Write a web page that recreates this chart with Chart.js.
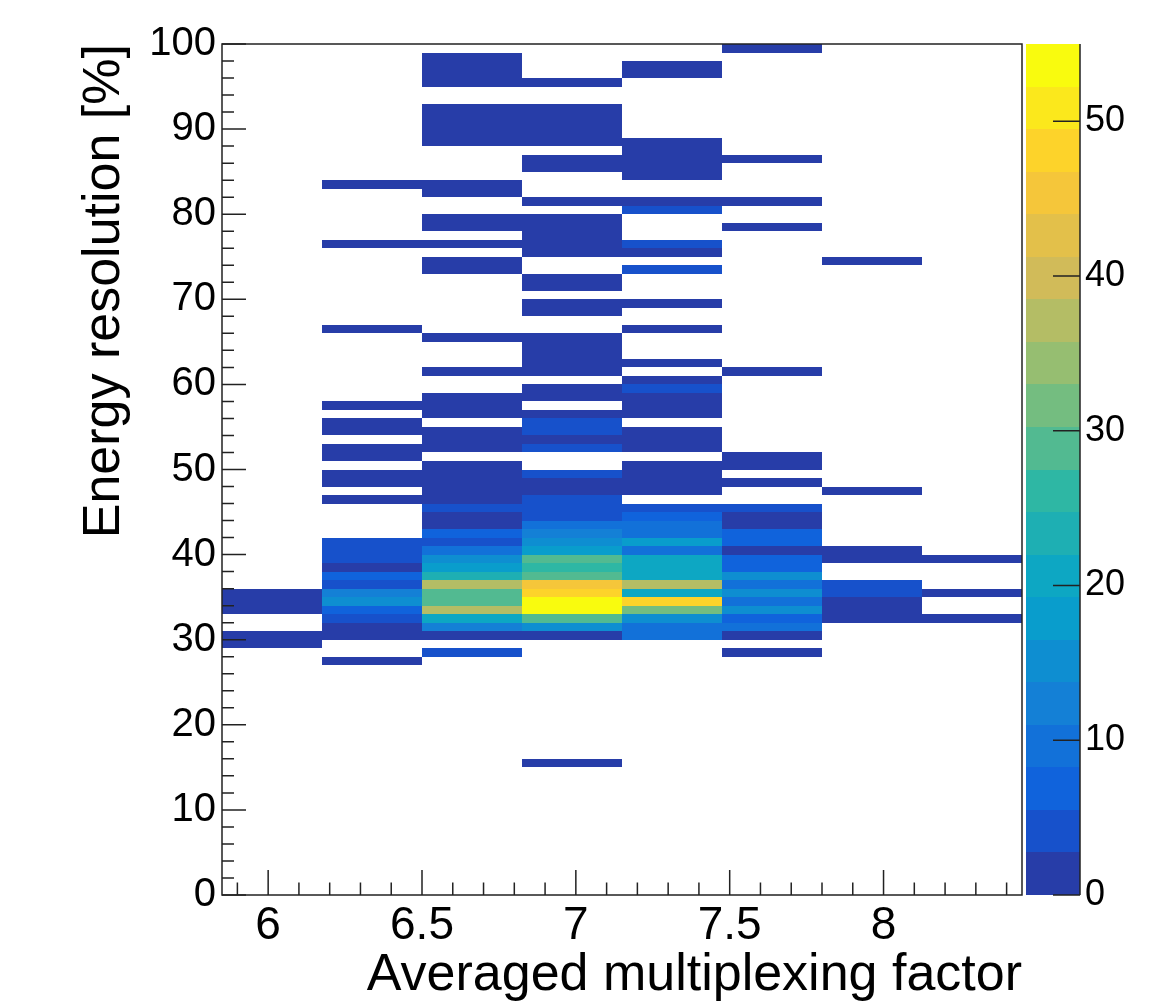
<!DOCTYPE html>
<html>
<head>
<meta charset="utf-8">
<title>Energy resolution vs averaged multiplexing factor</title>
<script src="https://cdn.jsdelivr.net/npm/chart.js@4/dist/chart.umd.min.js"></script>
<style>
  html, body { margin: 0; padding: 0; background: #fff; }
</style>
</head>
<body>
<canvas id="histo" width="1176" height="1007"></canvas>
<script>
// x bin edges of the 2D histogram (averaged multiplexing factor)
const xEdges = [5.85, 6.175, 6.5, 6.825, 7.15, 7.475, 7.8, 8.125, 8.45];

// entries per x bin as [energy resolution bin low edge (%), entries]
const bin1 = [[29, 1], [30, 2], [33, 1], [34, 2], [35, 1]];
const bin2 = [[27, 1], [30, 2], [31, 2], [32, 4], [33, 7], [34, 16], [35, 12], [36, 4], [37, 7], [38, 2],
  [39, 4], [40, 5], [41, 3], [46, 1], [48, 1], [49, 2], [51, 1], [52, 2], [54, 1], [55, 2],
  [57, 1], [66, 1], [76, 1], [83, 1]];
const bin3 = [[28, 4], [30, 2], [31, 12], [32, 21], [33, 37], [34, 29], [35, 29], [36, 38], [37, 23], [38, 19],
  [39, 15], [40, 10], [41, 4], [42, 7], [43, 2], [44, 1], [45, 4], [46, 1], [47, 2], [48, 1],
  [49, 2], [50, 1], [52, 1], [53, 2], [54, 1], [56, 2], [57, 1], [58, 1], [61, 1], [65, 1],
  [73, 1], [74, 2], [76, 1], [78, 1], [79, 2], [82, 1], [83, 2], [88, 1], [89, 2], [90, 1],
  [91, 1], [92, 2], [95, 1], [96, 2], [97, 1], [98, 1]];
const bin4 = [[15, 1], [30, 2], [31, 15], [32, 29], [33, 55], [34, 54], [35, 48], [36, 46], [37, 29], [38, 26],
  [39, 29], [40, 17], [41, 15], [42, 12], [43, 10], [44, 4], [45, 4], [46, 4], [47, 2], [48, 1],
  [49, 4], [52, 4], [53, 2], [54, 4], [55, 5], [56, 1], [58, 1], [59, 2], [61, 1], [62, 1],
  [63, 2], [64, 1], [65, 1], [68, 1], [69, 2], [71, 1], [72, 2], [75, 1], [76, 2], [77, 1],
  [78, 1], [79, 2], [81, 1], [85, 1], [86, 2], [88, 1], [89, 1], [90, 2], [91, 1], [92, 1], [95, 1]];
const bin5 = [[30, 10], [31, 9], [32, 15], [33, 32], [34, 47], [35, 21], [36, 37], [37, 21], [38, 21], [39, 20],
  [40, 10], [41, 18], [42, 9], [43, 9], [44, 6], [45, 4], [47, 1], [48, 2], [49, 1], [50, 2],
  [52, 1], [53, 2], [54, 1], [56, 1], [57, 2], [58, 1], [59, 4], [60, 1], [62, 1], [66, 1],
  [69, 1], [73, 4], [75, 1], [76, 4], [80, 4], [81, 1], [84, 1], [85, 2], [86, 1], [87, 2],
  [88, 1], [96, 1], [97, 2]];
const bin6 = [[28, 1], [30, 2], [31, 9], [32, 7], [33, 14], [34, 9], [35, 14], [36, 9], [37, 14], [38, 7],
  [39, 7], [40, 2], [41, 6], [42, 6], [43, 2], [44, 1], [45, 4], [48, 1], [50, 2], [51, 1],
  [61, 1], [78, 1], [81, 1], [86, 1], [99, 1]];
const bin7 = [[32, 2], [33, 1], [34, 2], [35, 4], [36, 4], [39, 1], [40, 2], [47, 1], [74, 1]];
const bin8 = [[32, 1], [35, 1], [39, 1]];
const xBins = [bin1, bin2, bin3, bin4, bin5, bin6, bin7, bin8];

// axis tick labels
const xTickLabels = [6, 6.5, 7, 7.5, 8];
const yTickLabels = [0, 10, 20, 30, 40, 50, 60, 70, 80, 90, 100];
const zTickLabels = [0, 10, 20, 30, 40, 50];
const zMax = 55;
const nContours = 20;

const FONT = "'Liberation Sans', Arial, Helvetica, sans-serif";

// kBird colour palette stops, sampled into contour colours
const birdStops = [0.0, 0.125, 0.25, 0.375, 0.5, 0.625, 0.75, 0.875, 1.0];
const birdR = [0.2082, 0.0592, 0.0780, 0.0232, 0.1802, 0.5301, 0.8186, 0.9956, 0.9764];
const birdG = [0.1664, 0.3599, 0.5041, 0.6419, 0.7178, 0.7492, 0.7328, 0.7862, 0.9832];
const birdB = [0.5293, 0.8684, 0.8385, 0.7914, 0.6425, 0.4662, 0.3499, 0.1968, 0.0539];

function birdColor(t) {
    let k = 0;
    while (k < birdStops.length - 2 && t > birdStops[k + 1]) k++;
    const f = (t - birdStops[k]) / (birdStops[k + 1] - birdStops[k]);
    const c = arr => Math.round(255 * (arr[k] + (arr[k + 1] - arr[k]) * f));
    return 'rgb(' + c(birdR) + ',' + c(birdG) + ',' + c(birdB) + ')';
}

const levelColors = [];
for (let i = 0; i < nContours; i++) {
    const idx = Math.floor((i + 0.99) * 255 / nContours);
    levelColors.push(birdColor(Math.min(idx, 254) / 254));
}

function colorFor(v) {
    let lvl = Math.floor(nContours * v / zMax);
    if (lvl >= nContours) lvl = nContours - 1;
    return levelColors[lvl];
}

// one point per filled cell
const cells = [];
xBins.forEach((bin, i) => {
    bin.forEach(([y, n]) => {
        cells.push({ x: (xEdges[i] + xEdges[i + 1]) / 2, y: y + 0.5, xi: i, ylo: y, v: n });
    });
});

// fixed box sizes, no extra label overflow padding
function fixBox(size) {
    return s => {
        if (s.isHorizontal()) s.height = size; else s.width = size;
        s.paddingTop = 0;
        s.paddingBottom = 0;
        s.paddingLeft = 0;
        s.paddingRight = 0;
    };
}

// draws the histogram cells and the palette
const colzPlugin = {
    id: 'colz',
    beforeDatasetsDraw(chart) {
        const { ctx, scales: { x, y, z } } = chart;
        ctx.save();
        chart.data.datasets[0].data.forEach(c => {
            const x0 = Math.round(x.getPixelForValue(xEdges[c.xi]));
            const x1 = Math.round(x.getPixelForValue(xEdges[c.xi + 1]));
            const y0 = Math.round(y.getPixelForValue(c.ylo + 1));
            const y1 = Math.round(y.getPixelForValue(c.ylo));
            ctx.fillStyle = colorFor(c.v);
            ctx.fillRect(x0, y0, x1 - x0, y1 - y0);
        });

        // palette
        const pl = 1026, pr = 1080;
        for (let i = 0; i < nContours; i++) {
            const ya = Math.round(z.getPixelForValue(i * zMax / nContours));
            const yb = Math.round(z.getPixelForValue((i + 1) * zMax / nContours));
            ctx.fillStyle = levelColors[i];
            ctx.fillRect(pl, yb, pr - pl, ya - yb);
        }
        ctx.restore();
    },
    afterDraw(chart) {
        const { ctx, chartArea: a, scales: { x, y, z } } = chart;
        ctx.save();
        ctx.strokeStyle = '#222';
        ctx.lineWidth = 1.5;

        // frame
        ctx.strokeRect(a.left, a.top, a.right - a.left, a.bottom - a.top);

        ctx.beginPath();
        // x ticks: major every 0.5, minor every 0.1
        for (let k = Math.ceil(x.min * 10); k <= Math.floor(x.max * 10); k++) {
            const px = x.getPixelForValue(k / 10);
            const len = (k % 5 === 0) ? 25 : 12.5;
            ctx.moveTo(px, a.bottom);
            ctx.lineTo(px, a.bottom - len);
        }
        // y ticks: major every 10, minor every 2
        for (let v = 0; v <= 100; v += 2) {
            const py = y.getPixelForValue(v);
            const len = (v % 10 === 0) ? 24 : 12;
            ctx.moveTo(a.left, py);
            ctx.lineTo(a.left + len, py);
        }
        // palette axis
        const pr = 1080;
        ctx.moveTo(pr, a.top);
        ctx.lineTo(pr, a.bottom);
        zTickLabels.forEach(v => {
            const py = z.getPixelForValue(v);
            ctx.moveTo(pr, py);
            ctx.lineTo(pr - 27, py);
        });
        ctx.stroke();
        ctx.restore();
    }
};

const ctx = document.getElementById('histo').getContext('2d');
new Chart(ctx, {
    type: 'scatter',
    data: {
        datasets: [{
            label: 'entries',
            data: cells,
            pointRadius: 0,
            pointHoverRadius: 0
        }]
    },
    options: {
        responsive: false,
        devicePixelRatio: 1,
        animation: false,
        layout: { padding: { top: 44, left: 0, right: 0, bottom: 0 } },
        plugins: {
            legend: { display: false },
            tooltip: { enabled: false }
        },
        scales: {
            x: {
                type: 'linear',
                position: 'bottom',
                min: xEdges[0],
                max: xEdges[xEdges.length - 1],
                afterFit: fixBox(112),
                afterBuildTicks: s => { s.ticks = xTickLabels.map(v => ({ value: v })); },
                grid: { display: false, drawTicks: false },
                border: { display: false },
                ticks: {
                    autoSkip: false,
                    maxRotation: 0,
                    padding: 4,
                    color: '#000',
                    font: { family: FONT, size: 46 },
                    callback: v => String(v)
                },
                title: {
                    display: true,
                    text: 'Averaged multiplexing factor',
                    align: 'end',
                    color: '#000',
                    font: { family: FONT, size: 52 },
                    padding: { top: 0, bottom: 0 }
                }
            },
            y: {
                type: 'linear',
                position: 'left',
                min: 0,
                max: 100,
                afterFit: fixBox(222),
                afterBuildTicks: s => { s.ticks = yTickLabels.map(v => ({ value: v })); },
                grid: { display: false, drawTicks: false },
                border: { display: false },
                ticks: {
                    autoSkip: false,
                    padding: 6,
                    color: '#000',
                    font: { family: FONT, size: 40 }
                },
                title: {
                    display: true,
                    text: 'Energy resolution [%]',
                    align: 'end',
                    color: '#000',
                    font: { family: FONT, size: 52 },
                    padding: { top: 73, bottom: 0 }
                }
            },
            z: {
                type: 'linear',
                position: 'right',
                min: 0,
                max: zMax,
                afterFit: fixBox(154),
                afterBuildTicks: s => { s.ticks = zTickLabels.map(v => ({ value: v })); },
                grid: { display: false, drawTicks: false },
                border: { display: false },
                ticks: {
                    autoSkip: false,
                    padding: 63,
                    color: '#000',
                    font: { family: FONT, size: 36 }
                }
            }
        }
    },
    plugins: [colzPlugin]
});
</script>
</body>
</html>
